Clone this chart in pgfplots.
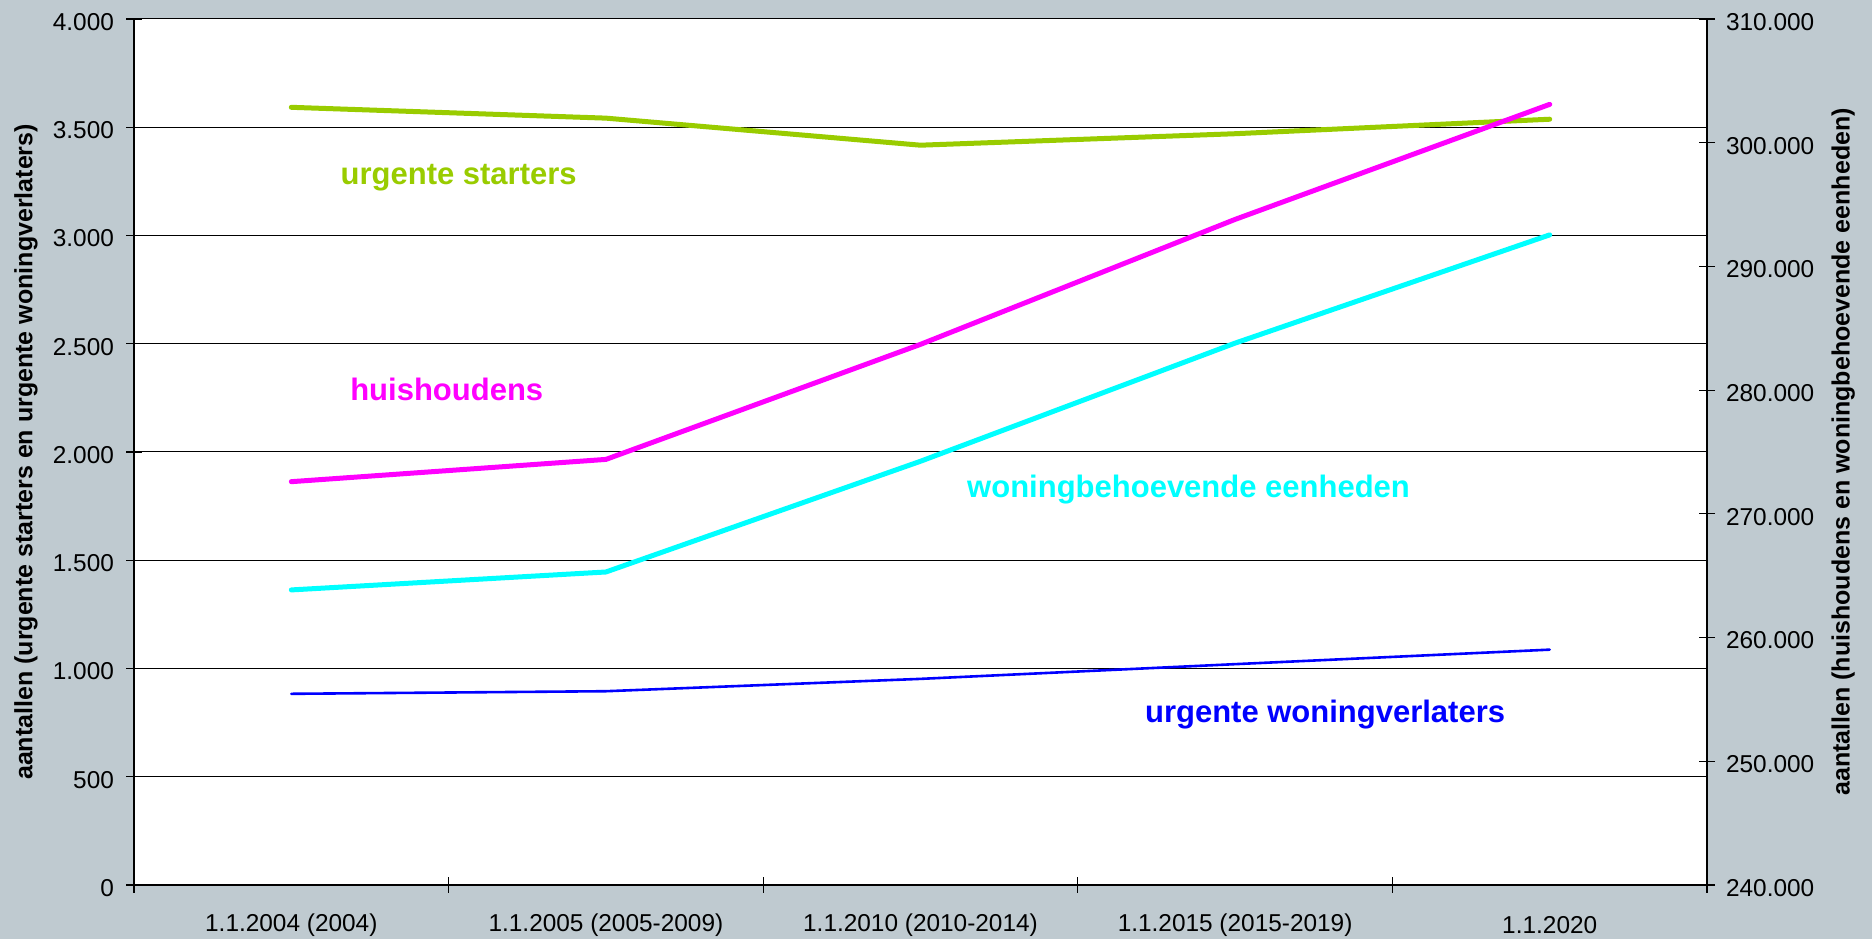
\documentclass[border=0pt]{standalone}
\usepackage{fontspec}
\setmainfont{Liberation Sans}
\usepackage{pgfplots}
\pgfplotsset{compat=1.18}
\definecolor{bg}{RGB}{191,202,208}
\definecolor{ugreen}{RGB}{153,204,0}
\definecolor{umag}{RGB}{255,0,255}
\definecolor{ucyan}{RGB}{0,255,255}
\definecolor{ublue}{RGB}{0,0,255}
\pgfplotstableread{
x y
0 3592
1 3542
2 3417
3 3470
4 3537
}\starters
\pgfplotstableread{
x y
0 883
1 895
2 952
3 1020
4 1087
}\verlaters
\pgfplotstableread{
x y
0 272600
1 274400
2 283700
3 293800
4 303100
}\huish
\pgfplotstableread{
x y
0 263850
1 265300
2 274250
3 283800
4 292550
}\woning
\begin{document}
\begin{tikzpicture}[x=1bp,y=1bp]
\useasboundingbox (0,0) rectangle (936,469.5);
\fill[bg] (0,0) rectangle (936,469.5);
\pgfplotsset{
  common/.style={
    at={(67bp,27bp)}, anchor=south west,
    scale only axis, width=786.5bp, height=433bp,
    xmin=-0.5, xmax=4.5,
    tick align=center, major tick length=8bp, minor tick length=8bp,
    tick style={black, line width=0.6bp},
    scaled y ticks=false,
    every tick label/.append style={font=\fontsize{12.2bp}{14bp}\selectfont},
    label style={font=\fontsize{12.5bp}{15bp}\selectfont\bfseries},
  }
}
\begin{axis}[common,
  axis background/.style={fill=white},
  axis x line*=bottom, axis y line*=left,
  x axis line style={black, line width=1.2bp},
  y axis line style={black, line width=0.7bp},
  ymin=0, ymax=4000,
  ytick={0,500,1000,1500,2000,2500,3000,3500,4000},
  yticklabels={0,500,1.000,1.500,2.000,2.500,3.000,3.500,4.000},
  ymajorgrids, grid style={black, line width=0.5bp},
  xtick={0,1,2,3,4},
  xticklabels={1.1.2004 (2004),1.1.2005 (2005-2009),1.1.2010 (2010-2014),1.1.2015 (2015-2019),1.1.2020},
  major x tick style={draw=none},
  minor xtick={-0.5,0.5,1.5,2.5,3.5,4.5},
  xticklabel style={anchor=center, yshift=-16bp},
  yticklabel style={xshift=-2.5bp, yshift=-1.5bp},
  ylabel={aantallen (urgente starters en urgente woningverlaters)},
  ylabel style={at={(axis description cs:-0.0687,0.5)}, anchor=center, rotate=0},
  clip=false,
]
\addplot[ugreen, line width=2.5bp, line cap=round, line join=round] table[x=x,y=y] {\starters};
\addplot[ublue, line width=1.3bp, line cap=round, line join=round] table[x=x,y=y] {\verlaters};
\node[font=\fontsize{15.5bp}{18bp}\selectfont\bfseries, text=ugreen] at (axis cs:0.532,3266) {urgente starters};
\node[font=\fontsize{15.5bp}{18bp}\selectfont\bfseries, text=umag] at (axis cs:0.494,2290) {huishoudens};
\node[font=\fontsize{15.5bp}{18bp}\selectfont\bfseries, text=ucyan] at (axis cs:2.852,1826) {woningbehoevende eenheden};
\node[font=\fontsize{15.5bp}{18bp}\selectfont\bfseries, text=ublue] at (axis cs:3.286,789) {urgente woningverlaters};
\end{axis}
\begin{axis}[common,
  axis x line=none, axis y line*=right,
  y axis line style={black, line width=0.7bp},
  ymin=240000, ymax=310000,
  ytick={240000,250000,260000,270000,280000,290000,300000,310000},
  yticklabels={240.000,250.000,260.000,270.000,280.000,290.000,300.000,310.000},
  yticklabel style={xshift=2bp, yshift=-1.5bp},
  ylabel={aantallen (huishoudens en woningbehoevende eenheden)},
  ylabel style={at={(axis description cs:1.0865,0.5)}, anchor=center, rotate=0},
]
\addplot[umag, line width=2.5bp, line cap=round, line join=round] table[x=x,y=y] {\huish};
\addplot[ucyan, line width=2.5bp, line cap=round, line join=round] table[x=x,y=y] {\woning};
\end{axis}
\end{tikzpicture}
\end{document}
